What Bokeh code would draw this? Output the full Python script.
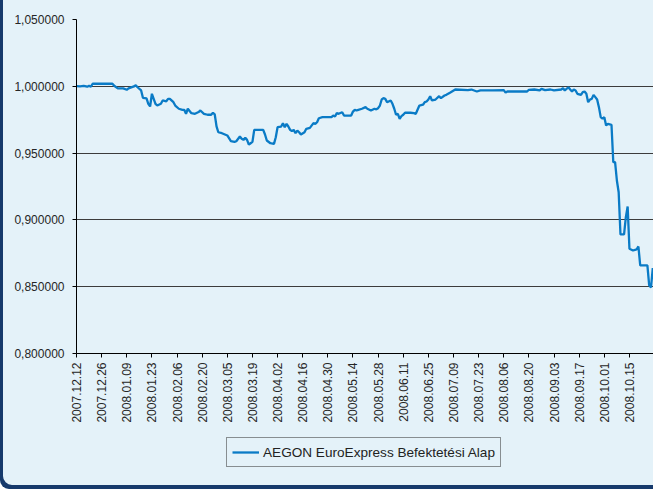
import math
import pandas as pd
from bokeh.plotting import figure
from bokeh.layouts import column
from bokeh.models import (Range1d, FixedTicker, DatetimeTickFormatter,
                          CustomJSTickFormatter, Legend, LegendItem)
from bokeh.embed import file_html
from bokeh.resources import INLINE

# ---------------- data ----------------
series_name = "AEGON EuroExpress Befektetési Alap"
start_date = "2007-12-12"
day_offsets = [
    0, 2, 4, 6, 7, 8, 9, 20, 21, 23, 26, 28, 29, 32, 33, 34, 36, 37, 39, 40,
    41, 42, 43, 44, 45, 47, 48, 50, 51, 52, 54, 55, 57, 59, 60, 61, 62, 64, 66, 68,
    69, 71, 73, 75, 76, 77, 78, 79, 81, 84, 86, 88, 89, 91, 92, 93, 94, 95, 96, 97,
    98, 99, 104, 105, 106, 108, 110, 111, 112, 114, 115, 116, 117, 118, 119, 120, 121, 122, 123, 124,
    125, 127, 128, 130, 132, 133, 134, 135, 137, 142, 143, 144, 145, 146, 148, 149, 153, 154, 155, 156,
    157, 159, 161, 162, 164, 166, 167, 168, 169, 170, 171, 172, 173, 175, 176, 177, 178, 179, 180, 181,
    182, 183, 186, 188, 189, 191, 193, 194, 195, 196, 197, 198, 200, 202, 203, 205, 206, 208, 211, 218,
    220, 223, 225, 232, 238, 239, 240, 251, 252, 255, 258, 259, 261, 264, 266, 270, 271, 272, 274, 275,
    276, 277, 278, 279, 281, 282, 283, 284, 285, 286, 287, 288, 289, 290, 291, 292, 293, 294, 295, 296,
    298, 299, 300, 301, 302, 303, 305, 306, 307, 308, 310, 312, 313, 314, 318, 319, 320, 321,
]
values = [
    1.0002, 1.0000, 1.0004, 0.9997, 1.0004, 0.9997, 1.0019, 1.0019, 1.0004, 0.9984,
    0.9984, 0.9974, 0.9984, 0.9999, 1.0008, 0.9993, 0.9969, 0.9914, 0.9909, 0.9869,
    0.9849, 0.9944, 0.9906, 0.9869, 0.9856, 0.9869, 0.9894, 0.9888, 0.9906, 0.9906,
    0.9881, 0.9856, 0.9832, 0.9824, 0.9824, 0.9794, 0.9832, 0.9799, 0.9794, 0.9807,
    0.9819, 0.9794, 0.9787, 0.9787, 0.9802, 0.9790, 0.9700, 0.9656, 0.9649, 0.9632,
    0.9589, 0.9584, 0.9589, 0.9624, 0.9607, 0.9599, 0.9614, 0.9599, 0.9564, 0.9574,
    0.9584, 0.9674, 0.9674, 0.9639, 0.9594, 0.9574, 0.9569, 0.9619, 0.9694, 0.9699,
    0.9724, 0.9694, 0.9719, 0.9699, 0.9674, 0.9664, 0.9674, 0.9649, 0.9669, 0.9656,
    0.9639, 0.9656, 0.9682, 0.9689, 0.9724, 0.9719, 0.9731, 0.9761, 0.9769, 0.9769,
    0.9781, 0.9774, 0.9799, 0.9794, 0.9806, 0.9781, 0.9781, 0.9811, 0.9824, 0.9819,
    0.9824, 0.9832, 0.9844, 0.9832, 0.9819, 0.9832, 0.9828, 0.9836, 0.9856, 0.9901,
    0.9911, 0.9906, 0.9881, 0.9894, 0.9869, 0.9832, 0.9787, 0.9794, 0.9757, 0.9777,
    0.9787, 0.9802, 0.9802, 0.9799, 0.9794, 0.9856, 0.9862, 0.9881, 0.9886, 0.9901,
    0.9926, 0.9894, 0.9901, 0.9926, 0.9911, 0.9931, 0.9936, 0.9951, 0.9976, 0.9971,
    0.9976, 0.9961, 0.9969, 0.9969, 0.9971, 0.9953, 0.9961, 0.9961, 0.9974, 0.9976,
    0.9969, 0.9981, 0.9971, 0.9976, 0.9969, 0.9976, 0.9986, 0.9969, 0.9993, 0.9976,
    0.9961, 0.9976, 0.9969, 0.9944, 0.9936, 0.9956, 0.9961, 0.9944, 0.9881, 0.9901,
    0.9906, 0.9936, 0.9919, 0.9901, 0.9844, 0.9769, 0.9757, 0.9769, 0.9707, 0.9719,
    0.9712, 0.9432, 0.9432, 0.9295, 0.9207, 0.8891, 0.8891, 0.9020, 0.9100, 0.8784,
    0.8771, 0.8780, 0.8801, 0.8659, 0.8659, 0.8510, 0.8494, 0.8640,
]
x_tick_labels = [
    "2007.12.12", "2007.12.26", "2008.01.09", "2008.01.23", "2008.02.06",
    "2008.02.20", "2008.03.05", "2008.03.19", "2008.04.02", "2008.04.16",
    "2008.04.30", "2008.05.14", "2008.05.28", "2008.06.11", "2008.06.25",
    "2008.07.09", "2008.07.23", "2008.08.06", "2008.08.20", "2008.09.03",
    "2008.09.17", "2008.10.01", "2008.10.15", "2008.10.29",
]
y_ticks = [0.80, 0.85, 0.90, 0.95, 1.00, 1.05]

# ---------------- styles ----------------
BG = "#e4f2f9"
NAVY = "#163a6c"
LINE = "#0a7bc6"
FONT = "Liberation Sans"
LINE_W = 2.3

t0 = pd.Timestamp(start_date)
dates = t0 + pd.to_timedelta(day_offsets, unit="D")
tick_dates = pd.to_datetime(x_tick_labels, format="%Y.%m.%d")
tick_ms = [int(t.value // 10**6) for t in tick_dates]
x_end = t0 + pd.Timedelta(days=321.4)

# ---------------- main chart ----------------
p = figure(width=653, height=430, x_axis_type="datetime",
           output_backend="svg", toolbar_location=None,
           x_range=Range1d(t0, x_end), y_range=Range1d(0.8, 1.05),
           min_border_left=76, min_border_right=0, min_border_top=19,
           min_border_bottom=77)
p.background_fill_color = BG
p.border_fill_color = None
p.outline_line_color = None

r = p.line(x=dates, y=values, line_color=LINE, line_width=LINE_W)

p.xgrid.visible = False
p.ygrid.grid_line_color = "#3c3c3c"
p.ygrid.grid_line_width = 1

ya = p.yaxis[0]
ya.ticker = FixedTicker(ticks=y_ticks)
ya.formatter = CustomJSTickFormatter(code="return tick.toFixed(6).replace('.', ',');")
ya.axis_line_color = "black"
ya.major_tick_line_color = "black"
ya.major_tick_out = 4
ya.major_tick_in = 0
ya.minor_tick_line_color = None
ya.major_label_standoff = 8
ya.major_label_text_font = FONT
ya.major_label_text_font_size = "12px"
ya.major_label_text_color = "#262626"

xa = p.xaxis[0]
xa.ticker = FixedTicker(ticks=tick_ms)
fmt = "%Y.%m.%d"
xa.formatter = DatetimeTickFormatter(
    microseconds=fmt, milliseconds=fmt, seconds=fmt, minsec=fmt, minutes=fmt,
    hourmin=fmt, hours=fmt, days=fmt, months=fmt, years=fmt)
xa.major_label_orientation = math.pi / 2
xa.axis_line_color = "black"
xa.major_tick_line_color = "black"
xa.major_tick_out = 4
xa.major_tick_in = 0
xa.minor_tick_line_color = None
xa.major_label_standoff = 5
xa.major_label_text_font = FONT
xa.major_label_text_font_size = "12px"
xa.major_label_text_color = "#262626"

# ---------------- legend strip ----------------
# (same series, drawn outside this strip's visible range, so only its
#  legend entry shows)
pl = figure(width=653, height=59, output_backend="svg", toolbar_location=None,
            x_range=Range1d(0, 1), y_range=Range1d(0, 1),
            min_border=0)
pl.axis.visible = False
pl.grid.visible = False
pl.outline_line_color = None
pl.background_fill_color = None
pl.border_fill_color = None
r_leg = pl.line(x=dates, y=values, line_color=LINE, line_width=LINE_W)

legend = Legend(items=[LegendItem(label=series_name, renderers=[r_leg])],
                location=(150, 22), orientation="horizontal")
legend.border_line_color = "#2a2a2a"
legend.border_line_width = 1
legend.background_fill_color = BG
legend.background_fill_alpha = 1
legend.label_text_font = FONT
legend.label_text_font_size = "13.6px"
legend.label_text_color = "#222222"
legend.glyph_width = 27
legend.glyph_height = 18
legend.label_height = 18
legend.padding = 5
legend.label_standoff = 4
legend.margin = 0
pl.add_layout(legend)

layout = column(p, pl, spacing=0)
layout.styles = {"background-color": BG,
                 "box-shadow": f"inset 3px -4px 0 0 {NAVY}",
                 "border-bottom-left-radius": "9px"}

open("out.html", "w").write(file_html(layout, INLINE))
